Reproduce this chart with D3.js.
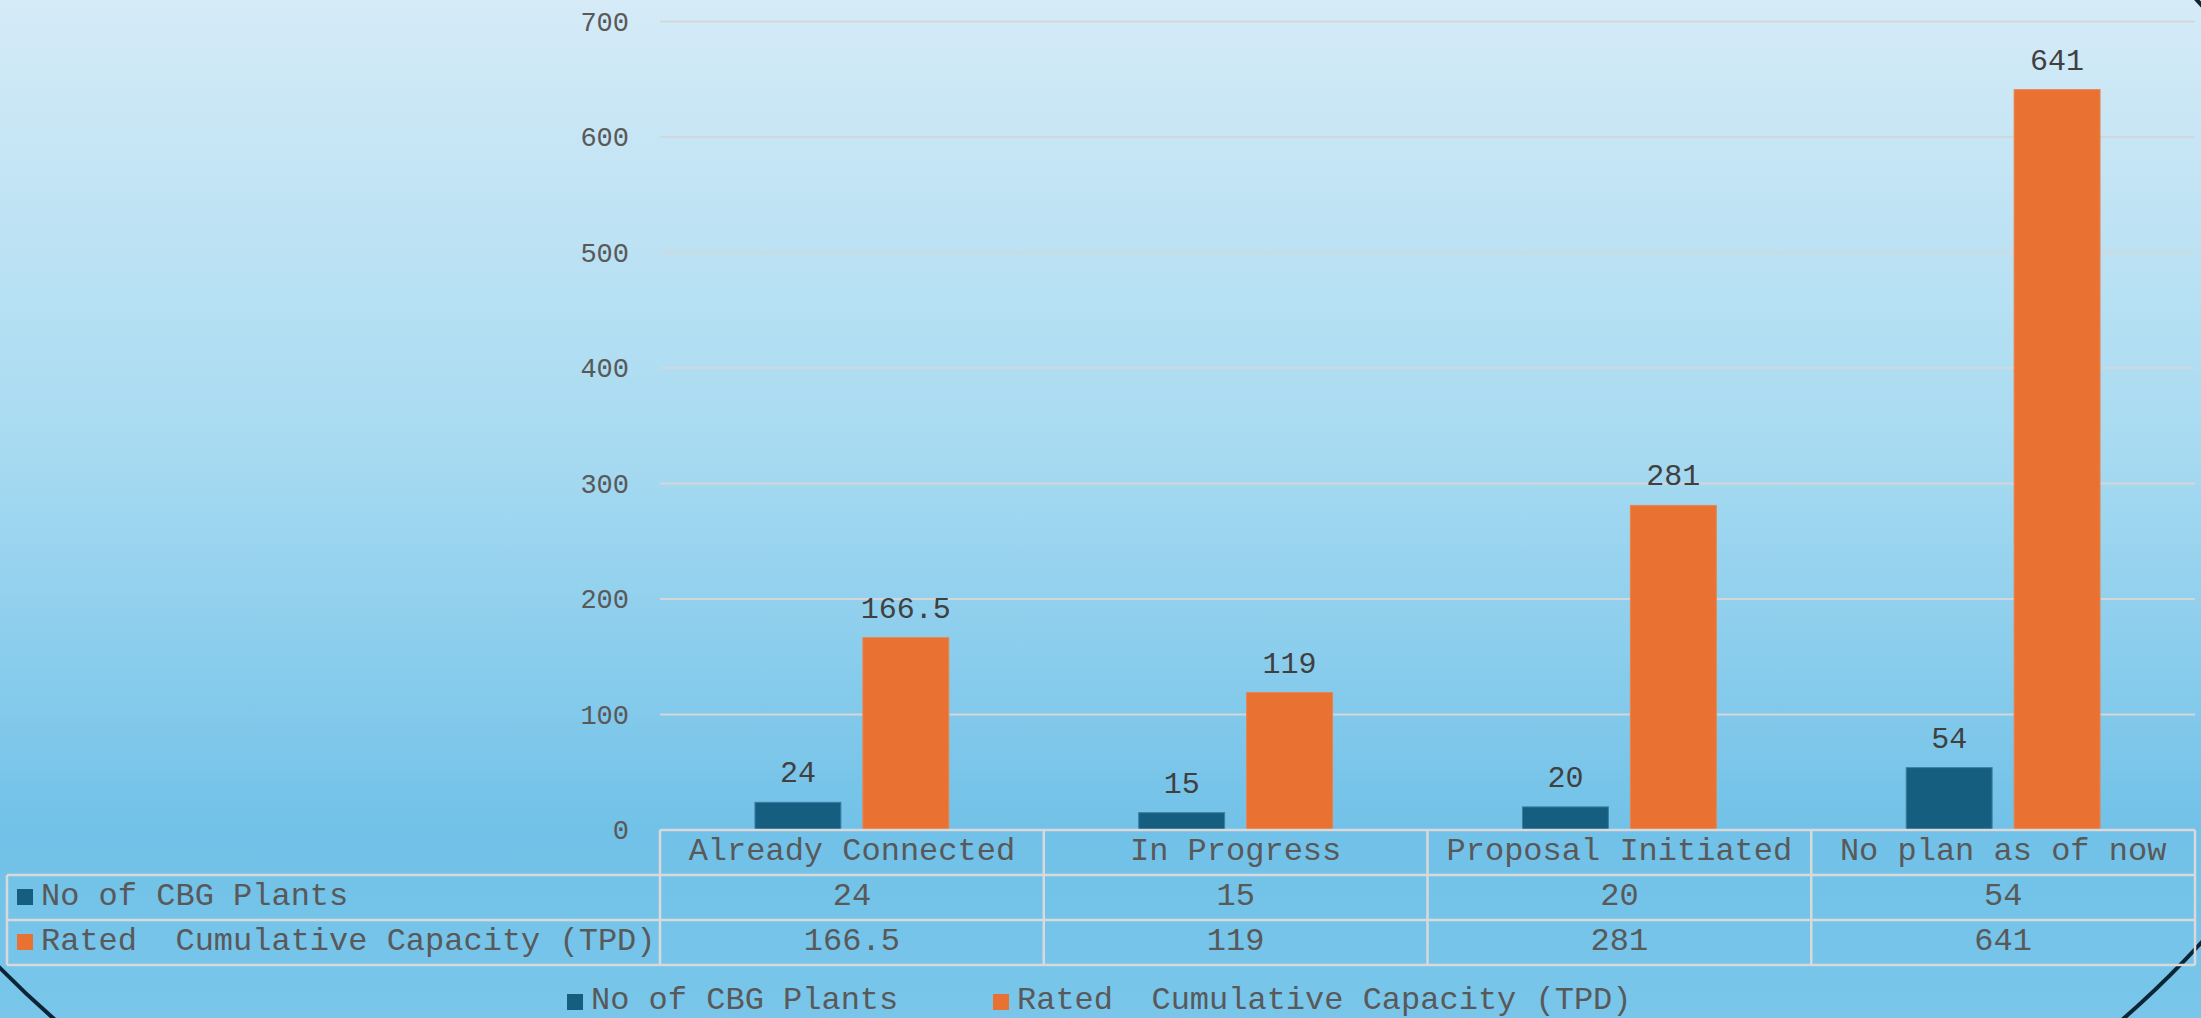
<!DOCTYPE html>
<html>
<head>
<meta charset="utf-8">
<script src="https://cdn.jsdelivr.net/npm/d3@7"></script>
<style>
  html, body { margin: 0; padding: 0; overflow: hidden; background: #d5ebf7; }
  text { font-family: "Liberation Mono", "Courier New", monospace; white-space: pre; }
</style>
</head>
<body>
<div id="chart"></div>
<script>
// data
var categories = ["Already Connected", "In Progress", "Proposal Initiated", "No plan as of now"];
var seriesNames = ["No of CBG Plants", "Rated  Cumulative Capacity (TPD)"];
var plants = [24, 15, 20, 54];
var capacity = [166.5, 119, 281, 641];
var labelsPlants = ["24", "15", "20", "54"];
var labelsCapacity = ["166.5", "119", "281", "641"];
var yTicks = [0, 100, 200, 300, 400, 500, 600, 700];
var colors = ["#155e80", "#e97132"];

var W = 2201, H = 1018;
var margin = {left: 660, right: 6, top: 21.5, bottom: 188};
var width = W - margin.left - margin.right;
var height = H - margin.top - margin.bottom;

var svg = d3.select("#chart").append("svg")
    .attr("width", W)
    .attr("height", H);

// background gradient
var defs = svg.append("defs");
var grad = defs.append("linearGradient")
    .attr("id", "bg").attr("x1", 0).attr("y1", 0).attr("x2", 0).attr("y2", 1);
grad.append("stop").attr("offset", "0").attr("stop-color", "#d5ebf7");
grad.append("stop").attr("offset", "0.45").attr("stop-color", "#a6daf1");
grad.append("stop").attr("offset", "0.82").attr("stop-color", "#71c1e8");
grad.append("stop").attr("offset", "1").attr("stop-color", "#79c6ea");

svg.append("rect").attr("width", W).attr("height", H).attr("fill", "url(#bg)");

// the big rounded frame that the page crops
svg.append("ellipse")
    .attr("cx", 1088.6).attr("cy", 473.7)
    .attr("rx", 1309.5).attr("ry", 889.3)
    .attr("fill", "none")
    .attr("stroke", "#0b2537")
    .attr("stroke-width", 4);

var g = svg.append("g")
    .attr("transform", "translate(" + margin.left + "," + margin.top + ")");

var x0 = d3.scaleBand().domain(categories).range([0, width]).padding(0);
var x1 = d3.scaleBand().domain(seriesNames).range([0, x0.bandwidth()])
    .paddingInner(0.204).paddingOuter(0.88);
var y = d3.scaleLinear().domain([0, 700]).range([height, 0]);

// gridlines
g.selectAll(".grid")
    .data(yTicks.slice(1))
  .enter().append("line")
    .attr("x1", 0).attr("x2", width)
    .attr("y1", function(d) { return y(d); })
    .attr("y2", function(d) { return y(d); })
    .attr("stroke", "#d4d7da")
    .attr("stroke-width", 2);

// y axis
var yAxis = g.append("g")
    .call(d3.axisLeft(y).tickValues(yTicks).tickSize(0).tickPadding(31));
yAxis.select(".domain").remove();
yAxis.selectAll("text")
    .style("font-family", "'Liberation Mono', 'Courier New', monospace")
    .style("font-size", "27px")
    .attr("fill", "#595959");

// bars
var series = [plants, capacity];
var seriesLabels = [labelsPlants, labelsCapacity];
series.forEach(function(vals, si) {
  var s = seriesNames[si];
  g.selectAll(".bar" + si)
      .data(vals)
    .enter().append("rect")
      .attr("x", function(d, i) { return x0(categories[i]) + x1(s); })
      .attr("y", function(d) { return y(d); })
      .attr("width", x1.bandwidth())
      .attr("height", function(d) { return y(0) - y(d); })
      .attr("fill", colors[si])
      .attr("stroke", si == 0 ? "#3a7fa0" : "#e9834e")
      .attr("stroke-width", 1);

  g.selectAll(".lab" + si)
      .data(vals)
    .enter().append("text")
      .attr("x", function(d, i) { return x0(categories[i]) + x1(s) + x1.bandwidth() / 2; })
      .attr("y", function(d) { return y(d) - 20; })
      .attr("text-anchor", "middle")
      .style("font-size", "30px")
      .attr("fill", "#404040")
      .text(function(d, i) { return seriesLabels[si][i]; });
});

// data table under the axis
var rowH = 45;
var tableLeft = 7 - margin.left;
var lineColor = "#d9d9d9";
var t = g.append("g").attr("transform", "translate(0," + height + ")");

// horizontal lines
t.append("line").attr("x1", 0).attr("x2", width).attr("y1", 0).attr("y2", 0)
    .attr("stroke", lineColor).attr("stroke-width", 2.5);
[1, 2, 3].forEach(function(r) {
  t.append("line").attr("x1", tableLeft).attr("x2", width)
      .attr("y1", r * rowH).attr("y2", r * rowH)
      .attr("stroke", lineColor).attr("stroke-width", 2.5);
});
// vertical lines
t.append("line").attr("x1", tableLeft).attr("x2", tableLeft)
    .attr("y1", rowH).attr("y2", 3 * rowH)
    .attr("stroke", lineColor).attr("stroke-width", 2.5);
categories.concat(["end"]).forEach(function(c, i) {
  var xx = i * x0.bandwidth();
  t.append("line").attr("x1", xx).attr("x2", xx)
      .attr("y1", 0).attr("y2", 3 * rowH)
      .attr("stroke", lineColor).attr("stroke-width", 2.5);
});

// header row
t.selectAll(".hdr")
    .data(categories)
  .enter().append("text")
    .attr("x", function(d) { return x0(d) + x0.bandwidth() / 2; })
    .attr("y", 30)
    .attr("text-anchor", "middle")
    .style("font-size", "32px")
    .attr("fill", "#595959")
    .text(function(d) { return d; });

// series rows
series.forEach(function(vals, si) {
  var rowY = (si + 1) * rowH;
  t.append("rect")
      .attr("x", tableLeft + 10).attr("y", rowY + 14)
      .attr("width", 16).attr("height", 16)
      .attr("fill", colors[si]);
  t.append("text")
      .attr("x", tableLeft + 34).attr("y", rowY + 30)
      .style("font-size", "32px")
      .attr("fill", "#595959")
      .text(seriesNames[si]);
  t.selectAll(".cell" + si)
      .data(vals)
    .enter().append("text")
      .attr("x", function(d, i) { return x0(categories[i]) + x0.bandwidth() / 2; })
      .attr("y", rowY + 30)
      .attr("text-anchor", "middle")
      .style("font-size", "32px")
      .attr("fill", "#595959")
      .text(function(d, i) { return seriesLabels[si][i]; });
});

// legend
var legendX = [567, 993];
var legend = svg.append("g");
seriesNames.forEach(function(s, si) {
  legend.append("rect")
      .attr("x", legendX[si]).attr("y", 994)
      .attr("width", 16).attr("height", 16)
      .attr("fill", colors[si]);
  legend.append("text")
      .attr("x", legendX[si] + 24).attr("y", 1009)
      .style("font-size", "32px")
      .attr("fill", "#595959")
      .text(s);
});
</script>
</body>
</html>
